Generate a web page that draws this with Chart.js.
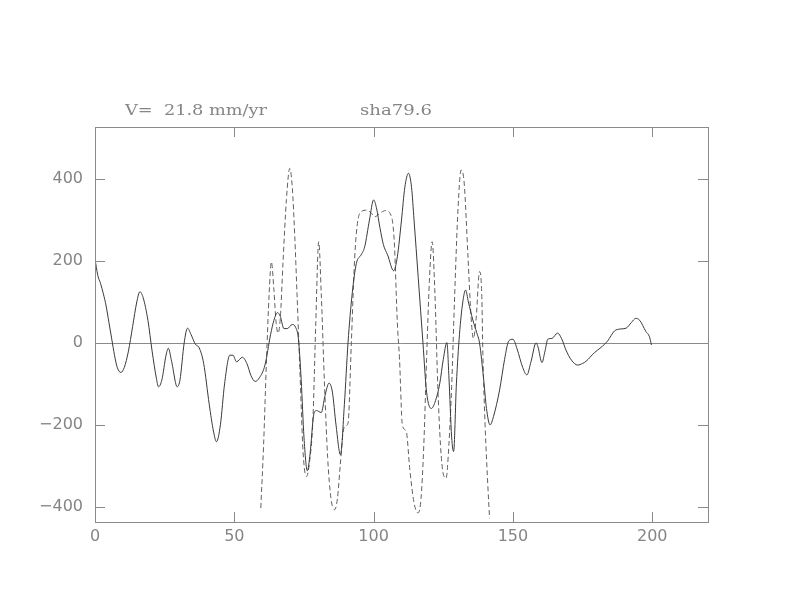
<!DOCTYPE html>
<html>
<head>
<meta charset="utf-8">
<script src="https://cdn.jsdelivr.net/npm/chart.js@4/dist/chart.umd.min.js"></script>
<style>
  body { margin: 0; background: #fff; }
  #wrap { width: 792px; height: 612px; }
</style>
</head>
<body>
<div id="wrap"><canvas id="chart" width="792" height="612"></canvas></div>
<script>
// Solid profile (observed)
const solidX = [0, 1, 2, 3, 4, 5, 6, 7, 8, 9.3, 10.5, 12, 13.5, 15, 16.1, 17.3, 19, 20.5, 22, 22.8,
  24, 25.5, 26.3, 27.5, 29.5, 30.5, 32, 33.2, 34.5, 36, 37.4, 39, 41, 42.5, 43.6, 45, 46.5, 48.4, 49.5, 50.8,
  52.9, 54.5, 56, 57.5, 59, 61, 63, 64.2, 65.5, 66.5, 67.8, 69, 70.8, 72, 73, 74, 75, 76.2, 77.2, 78.5,
  79.5, 81.2, 82.5, 84, 85.2, 86.5, 88.1, 89.5, 90.8, 92.3, 93.8, 95.5, 96.8, 98.5, 100, 101, 102.3, 103.5, 105, 107.2,
  108.5, 110, 111.2, 112.5, 113.6, 114.5, 116, 117.7, 119, 120.7, 122, 123.7, 125, 126.3, 127, 128, 128.7, 129.7, 130.8, 132,
  133, 134, 135.6, 137, 138, 139.5, 140.5, 141.8, 143, 145.2, 147, 148.5, 150, 151.5, 153.5, 155, 156.5, 158.3, 159, 160.4,
  161.5, 162.5, 164, 166, 167.5, 169, 171, 173.2, 175, 176.2, 179.2, 181.6, 184, 186.4, 188.5, 190.6, 192.5, 194.1, 195.5, 197.7,
  199, 199.7];
const solidY = [205, 165, 145, 120, 90, 50, 10, -30, -60, -72, -60, -20, 40, 100, 125, 110, 55, -20, -85, -107,
  -90, -30, -13, -45, -107, -90, 0, 36, 20, -3, -12, -50, -150, -215, -241, -200, -100, -30, -30, -46,
  -35, -50, -80, -94, -85, -54, 20, 55, 74, 65, 35, 35, 45, 38, 10, -90, -230, -312, -270, -175,
  -165, -170, -130, -98, -120, -200, -273, -150, 0, 120, 194, 215, 235, 300, 349, 330, 280, 240, 215, 176,
  210, 300, 380, 414, 380, 300, 160, 0, -120, -160, -145, -100, -40, 1, -80, -230, -265, -100, 20, 100,
  129, 100, 56, 25, 0, -90, -160, -200, -180, -115, -40, 5, 9, -15, -60, -78, -45, 0, -10, -48,
  -20, 9, 11, 24, 10, -17, -42, -54, -50, -45, -24, -11, 5, 29, 34, 36, 50, 60, 55, 28,
  15, -5];

// Dashed profile (model)
const dashX = [59.5, 60.5, 61.5, 62.5, 63.3, 64.2, 65, 65.7, 66.5, 67.5, 68.7, 69.9, 70.8, 71.7, 72.5, 73.5, 74.7, 75.9, 77, 78.2,
  79.2, 80.3, 81.2, 82.4, 83.5, 84.7, 86, 87, 88, 89, 89.6, 90.8, 92, 93, 93.8, 95, 97.4, 99, 100.4, 102.5,
  104.3, 106, 106.9, 107.5, 108.5, 109.3, 110.3, 111.7, 113, 114.5, 115.9, 117, 118, 119, 120, 121, 122, 123, 124, 125,
  126, 127, 128, 129, 130.3, 131.4, 132.5, 133.8, 135, 135.8, 136.8, 138, 138.8, 139.2, 140, 141, 141.6];
const dashY = [-403, -250, -50, 120, 198, 130, 50, 24, 60, 200, 350, 426, 380, 259, 120, -60, -269, -326, -290, -188,
  40, 247, 120, -107, -280, -380, -407, -380, -300, -220, -204, -196, 0, 180, 268, 316, 324, 318, 308, 318,
  323, 315, 290, 235, 50, -41, -200, -216, -310, -390, -415, -380, -250, -40, 150, 247, 120, -100, -250, -320,
  -330, -250, -107, 100, 330, 422, 390, 219, 60, 11, 60, 174, 120, -25, -200, -350, -428];

const xTicks = [0, 50, 100, 150, 200];
const yTicks = [-400, -200, 0, 200, 400];
const velocityLabel = 'V=  21.8 mm/yr';
const profileLabel = 'sha79.6';

const axisColor = '#8a8a8a';
const textColor = '#858585';

function toPoints(xs, ys) {
    return xs.map((x, i) => ({ x: x, y: ys[i] }));
}

// Frame, inward ticks, zero line and header labels
const framePlugin = {
    id: 'frame',
    beforeDatasetsDraw(chart) {
        const { ctx, chartArea: a, scales } = chart;
        const y0 = scales.y.getPixelForValue(0);
        ctx.save();
        ctx.strokeStyle = axisColor;
        ctx.lineWidth = 1;
        ctx.beginPath();
        ctx.moveTo(a.left, Math.round(y0) + 0.5);
        ctx.lineTo(a.right, Math.round(y0) + 0.5);
        ctx.stroke();
        ctx.restore();
    },
    afterDatasetsDraw(chart) {
        const { ctx, chartArea: a, scales } = chart;
        const len = 10;
        ctx.save();
        ctx.strokeStyle = axisColor;
        ctx.lineWidth = 1;
        ctx.strokeRect(Math.round(a.left) + 0.5, Math.round(a.top) + 0.5,
            Math.round(a.right - a.left), Math.round(a.bottom - a.top));
        ctx.beginPath();
        xTicks.forEach(v => {
            const px = Math.round(scales.x.getPixelForValue(v)) + 0.5;
            ctx.moveTo(px, a.bottom); ctx.lineTo(px, a.bottom - len);
            ctx.moveTo(px, a.top); ctx.lineTo(px, a.top + len);
        });
        yTicks.forEach(v => {
            const py = Math.round(scales.y.getPixelForValue(v)) + 0.5;
            ctx.moveTo(a.left, py); ctx.lineTo(a.left + len, py);
            ctx.moveTo(a.right, py); ctx.lineTo(a.right - len, py);
        });
        ctx.stroke();

        // header text, stretched a little to match the wide plotter font
        ctx.fillStyle = textColor;
        ctx.font = '15px "DejaVu Serif"';
        ctx.textBaseline = 'alphabetic';
        drawFitted(ctx, velocityLabel, 125, 115, 142);
        drawFitted(ctx, profileLabel, 360, 115, 72);
        ctx.restore();
    }
};

function drawFitted(ctx, text, x, y, width) {
    const w = ctx.measureText(text).width;
    ctx.save();
    ctx.translate(x, y);
    ctx.scale(width / w, 1);
    ctx.fillText(text, 0, 0);
    ctx.restore();
}

const ctx = document.getElementById('chart').getContext('2d');
const chart = new Chart(ctx, {
    type: 'scatter',
    data: {
        datasets: [
            {
                label: 'observed',
                data: toPoints(solidX, solidY),
                showLine: true,
                borderColor: '#3a3a3a',
                borderWidth: 1,
                pointRadius: 0,
                cubicInterpolationMode: 'monotone'
            },
            {
                label: 'model',
                data: toPoints(dashX, dashY),
                showLine: true,
                borderColor: '#606060',
                borderWidth: 1,
                borderDash: [5, 3],
                pointRadius: 0,
                cubicInterpolationMode: 'monotone'
            }
        ]
    },
    options: {
        responsive: false,
        animation: false,
        layout: { padding: { left: 0, top: 127, right: 84, bottom: 50 } },
        plugins: { legend: { display: false }, tooltip: { enabled: false } },
        scales: {
            x: {
                type: 'linear',
                min: 0,
                max: 220,
                grid: { display: false, drawTicks: false },
                border: { display: false },
                afterBuildTicks: s => { s.ticks = xTicks.map(v => ({ value: v })); },
                afterFit: s => { s.height = 40; },
                ticks: {
                    padding: 5,
                    color: textColor,
                    font: { family: 'DejaVu Sans', size: 16 },
                    maxRotation: 0
                }
            },
            y: {
                type: 'linear',
                min: -437,
                max: 527,
                grid: { display: false, drawTicks: false },
                border: { display: false },
                afterBuildTicks: s => { s.ticks = yTicks.map(v => ({ value: v })); },
                afterFit: s => { s.width = 95; },
                ticks: {
                    padding: 12,
                    color: textColor,
                    font: { family: 'DejaVu Sans', size: 16 },
                    callback: v => (v < 0 ? '\u2212' + Math.abs(v) : String(v))
                }
            }
        }
    },
    plugins: [framePlugin]
});
</script>
</body>
</html>
